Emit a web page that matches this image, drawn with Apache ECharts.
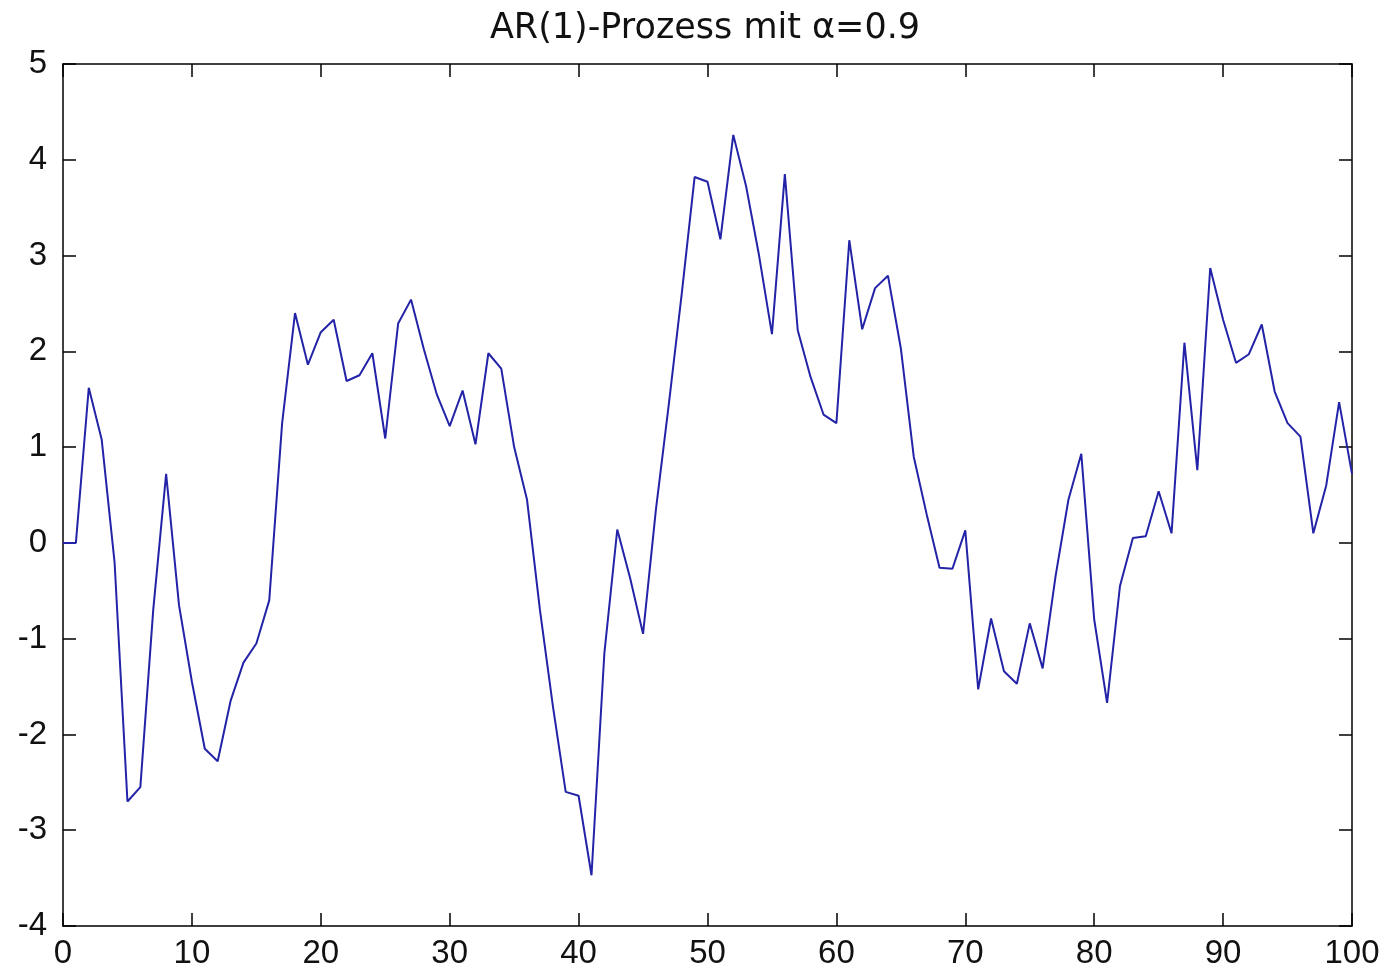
<!DOCTYPE html>
<html>
<head>
<meta charset="utf-8">
<script src="https://cdn.jsdelivr.net/npm/echarts@6/dist/echarts.min.js"></script>
<style>
  html, body { margin: 0; padding: 0; background: #ffffff; }
  #chart { width: 1388px; height: 976px; }
</style>
</head>
<body>
<div id="chart"></div>
<script>
const titleText = 'AR(1)-Prozess mit α=0.9';
const xTicks = [0, 10, 20, 30, 40, 50, 60, 70, 80, 90, 100];
const yTicks = [-4, -3, -2, -1, 0, 1, 2, 3, 4, 5];
// AR(1) series values at t = 0 .. 100
const values = [
  0, 0, 1.62, 1.08, -0.2, -2.7, -2.55, -0.7, 0.72, -0.65,
  -1.45, -2.15, -2.28, -1.65, -1.25, -1.05, -0.6, 1.25, 2.4, 1.86,
  2.2, 2.33, 1.69, 1.75, 1.98, 1.09, 2.29, 2.54, 2.02, 1.55,
  1.22, 1.59, 1.03, 1.98, 1.82, 1.0, 0.45, -0.7, -1.7, -2.6,
  -2.64, -3.47, -1.15, 0.14, -0.37, -0.95, 0.35, 1.45, 2.6, 3.82,
  3.77, 3.17, 4.26, 3.72, 3.0, 2.18, 3.85, 2.22, 1.73, 1.34,
  1.25, 3.16, 2.23, 2.66, 2.79, 2.03, 0.9, 0.3, -0.26, -0.27,
  0.13, -1.53, -0.79, -1.34, -1.47, -0.84, -1.31, -0.35, 0.45, 0.93,
  -0.8, -1.67, -0.45, 0.05, 0.07, 0.54, 0.1, 2.09, 0.76, 2.87,
  2.33, 1.88, 1.97, 2.28, 1.58, 1.25, 1.11, 0.1, 0.6, 1.47,
  0.72
];

const chart = echarts.init(document.getElementById('chart'), null, { renderer: 'canvas' });
const fontFamily = '"Liberation Sans", Arial, sans-serif';
const axisLine = { show: true, onZero: false, lineStyle: { color: '#000', width: 1.5 } };
const tick = { show: true, inside: true, length: 13, lineStyle: { color: '#000', width: 1.5 } };

chart.setOption({
  backgroundColor: '#ffffff',
  animation: false,
  title: {
    text: titleText,
    left: 700, textAlign: 'center',
    top: 6,
    textStyle: { fontFamily: '"DejaVu Sans", sans-serif', fontSize: 35, fontWeight: 'normal', color: '#111' }
  },
  grid: { left: 63, right: 36, top: 64, bottom: 50, containLabel: false },
  xAxis: [
    {
      type: 'value', position: 'bottom', min: xTicks[0], max: xTicks[xTicks.length - 1], interval: 10,
      axisLine, axisTick: tick, splitLine: { show: false },
      axisLabel: { show: true, margin: 11, fontFamily, fontSize: 33, color: '#111' }
    },
    {
      type: 'value', position: 'top', min: xTicks[0], max: xTicks[xTicks.length - 1], interval: 10,
      axisLine, axisTick: tick, splitLine: { show: false }, axisLabel: { show: false }
    }
  ],
  yAxis: [
    {
      type: 'value', position: 'left', min: yTicks[0], max: yTicks[yTicks.length - 1], interval: 1,
      axisLine, axisTick: tick, splitLine: { show: false },
      axisLabel: { show: true, margin: 16, fontFamily, fontSize: 33, color: '#111' }
    },
    {
      type: 'value', position: 'right', min: yTicks[0], max: yTicks[yTicks.length - 1], interval: 1,
      axisLine, axisTick: tick, splitLine: { show: false }, axisLabel: { show: false }
    }
  ],
  series: [{
    type: 'line',
    xAxisIndex: 0, yAxisIndex: 0,
    data: values.map((v, i) => [i, v]),
    showSymbol: false,
    symbol: 'none',
    lineStyle: { color: '#2323a8', width: 2 },
    silent: true
  }]
});
</script>
</body>
</html>
